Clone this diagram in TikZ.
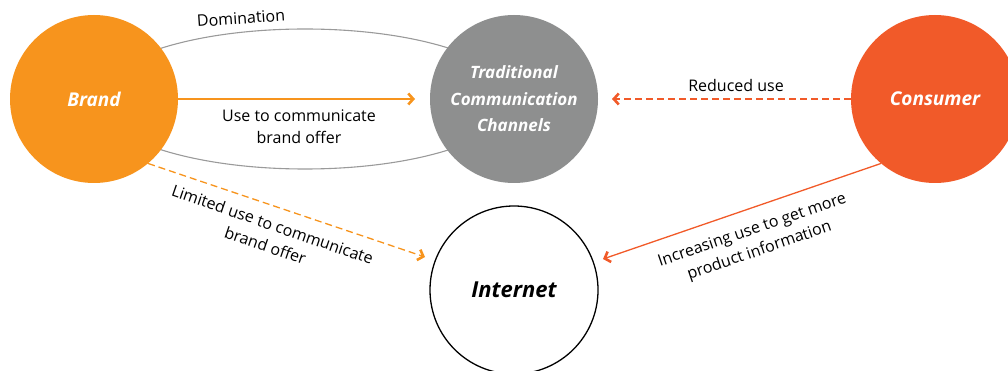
\documentclass[tikz,border=0pt]{standalone}
\usepackage{fontspec}
\setmainfont{Open Sans}
\usetikzlibrary{arrows.meta}
\definecolor{brandorange}{HTML}{F7941D}
\definecolor{consumerred}{HTML}{F15A29}
\definecolor{channelgray}{HTML}{8E8F8F}
\definecolor{loopgray}{HTML}{9A9A9A}
\tikzset{
  hub/.style={circle, minimum size=168pt, inner sep=0pt, align=center,
    font=\fontsize{19}{25}\selectfont\bfseries\itshape, text=white},
  lbl/.style={font=\fontsize{16}{22}\selectfont, align=center, inner sep=0pt},
  tip/.style={-{Straight Barb[length=5pt,width=11pt,line width=2.6pt]}},
  link/.style={line width=1.3pt},
}
\begin{document}
\begin{tikzpicture}[x=1pt,y=-1pt]
\useasboundingbox (0,0) rectangle (1008,371);
% grey loop behind the two left circles
\draw[loopgray, line width=1.1pt] (305,99) ellipse [x radius=209, y radius=70];
% circles
\node[hub, fill=brandorange] (brand) at (94,99) {Brand};
\node[hub, fill=channelgray, font=\fontsize{17}{26.5}\selectfont\bfseries\itshape] (trad) at (514,99) {Traditional\\Communication\\Channels};
\node[hub, fill=consumerred] (cons) at (935,99) {Consumer};
\node[hub, draw=black, line width=1.3pt, fill=white, text=black,
  font=\fontsize{22}{25}\selectfont\bfseries\itshape] (net) at (514,290) {Internet};
% arrow end points
\coordinate (tradL) at (415,99);
\coordinate (tradR) at (612,99);
\coordinate (netL) at (425,257);
\coordinate (netR) at (603,259);
% connectors
\draw[link, brandorange, tip] (brand.east) -- (tradL);
\draw[link, brandorange, tip, dash pattern=on 7pt off 4pt] (brand.-50) -- (netL);
\draw[link, consumerred, tip, dash pattern=on 7pt off 4pt] (cons.west) -- (tradR);
\draw[link, consumerred, tip] (cons.230) -- (netR);
% labels
\node[lbl, rotate=4] (ldom) at (241,18) {Domination};
\node[lbl] (luse) at (299,127) {Use to communicate\\brand offer};
\node[lbl] (lred) at (736,86) {Reduced use};
\node[lbl, rotate=-19] (llim) at (269,235) {Limited use to communicate\\brand offer};
\node[lbl, rotate=19] (linc) at (756,241) {Increasing use to get more\\product information};
\end{tikzpicture}
\end{document}
